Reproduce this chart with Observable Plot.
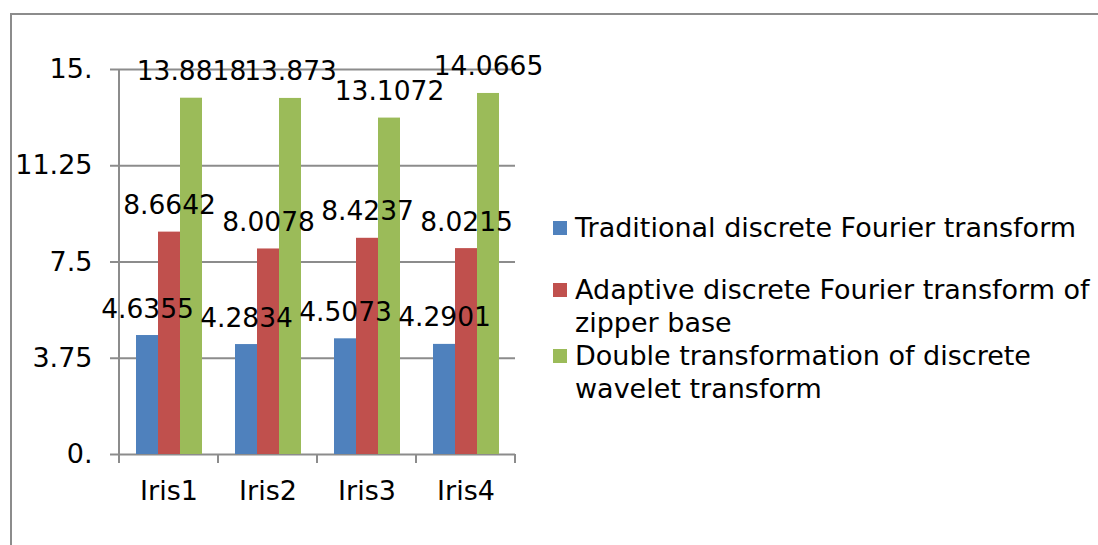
<!DOCTYPE html>
<html><head><meta charset="utf-8">
<script src="https://cdn.jsdelivr.net/npm/d3@7"></script>
<script src="https://cdn.jsdelivr.net/npm/@observablehq/plot@0.6"></script>
<style>
body{margin:0;background:#fff;}
#wrap{position:relative;width:1098px;height:545px;overflow:hidden;font-family:"DejaVu Sans",Verdana,sans-serif;background:#fff;}
#frame{position:absolute;left:10px;top:13px;width:1200px;height:600px;border-left:2px solid #8c8c8c;border-top:2px solid #8c8c8c;}
#chart{position:absolute;left:0;top:0;}
.leg{position:absolute;left:553px;width:545px;font-size:27px;line-height:33px;color:#000;padding-left:22px;box-sizing:border-box;}
.leg .sw{position:absolute;left:0;top:10px;width:14px;height:14px;}
</style>
</head><body>
<div id="wrap"><div id="frame"></div><div id="chart"></div></div>
<script>
const categories = ["Iris1", "Iris2", "Iris3", "Iris4"];
const seriesNames = [
  "Traditional discrete Fourier transform",
  "Adaptive discrete Fourier transform of zipper base",
  "Double transformation of discrete wavelet transform"
];
const traditional = [4.6355, 4.2834, 4.5073, 4.2901];
const adaptive = [8.6642, 8.0078, 8.4237, 8.0215];
const doubleWavelet = [13.8818, 13.873, 13.1072, 14.0665];
const yTicks = [0, 3.75, 7.5, 11.25, 15];
const yTickLabels = ["0.", "3.75", "7.5", "11.25", "15."];
const colors = ["#4F81BD", "#C0504D", "#9BBB59"];

const rows = [];
[traditional, adaptive, doubleWavelet].forEach((vals, j) =>
  categories.forEach((c, i) => rows.push({category: c, series: seriesNames[j], value: vals[i]})));

const gray = "#8c8c8c";
const plot = Plot.plot({
  width: 1098, height: 545,
  marginLeft: 117, marginRight: 582, marginTop: 69, marginBottom: 91,
  style: {fontFamily: "'DejaVu Sans', Verdana, sans-serif", fontSize: "27px", color: "#000", background: "transparent"},
  fx: {domain: categories, padding: 0, label: null},
  x: {domain: seriesNames, paddingInner: 0, paddingOuter: 0.73, axis: null},
  y: {domain: [0, 15], label: null},
  color: {domain: seriesNames, range: colors},
  marks: [
    Plot.gridY(yTicks, {stroke: gray, strokeOpacity: 1, strokeWidth: 2}),
    Plot.axisY(yTicks, {tickSize: 9, tickPadding: 18, stroke: gray, strokeWidth: 2, fontSize: 27,
      tickFormat: d => yTickLabels[yTicks.indexOf(d)], label: null}),
    Plot.barY(rows, {fx: "category", x: "series", y: "value", fill: "series"}),
    Plot.text(rows, {fx: "category", x: "series", y: "value", text: d => String(d.value),
      lineAnchor: "bottom", dy: -18, fill: "#000", fontSize: 26.5}),
    Plot.axisFx({anchor: "bottom", tickSize: 0, tickPadding: 26, fontSize: 27, label: null})
  ]
});
document.getElementById("chart").appendChild(plot);

// axis line and category boundary ticks, placed with the plot's own scales
const fx = plot.scale("fx"), y = plot.scale("y");
const svg = d3.select(plot);
const g = svg.append("g").attr("stroke", gray).attr("stroke-width", 2);
const x0 = fx.apply(categories[0]);
const step = fx.step || fx.bandwidth;
g.append("line").attr("x1", x0).attr("x2", x0).attr("y1", y.apply(0) + 1).attr("y2", y.apply(15));
categories.map(c => fx.apply(c)).concat([fx.apply(categories[categories.length - 1]) + step])
  .forEach(b => g.append("line").attr("x1", b).attr("x2", b).attr("y1", y.apply(0)).attr("y2", y.apply(0) + 9));

// legend
const legTops = [211, 273, 339];
const wrap = document.getElementById("wrap");
seriesNames.forEach((name, j) => {
  const d = document.createElement("div");
  d.className = "leg";
  d.style.top = legTops[j] + "px";
  d.innerHTML = `<span class="sw" style="background:${colors[j]}"></span>${name}`;
  wrap.appendChild(d);
});
</script>
</body></html>
